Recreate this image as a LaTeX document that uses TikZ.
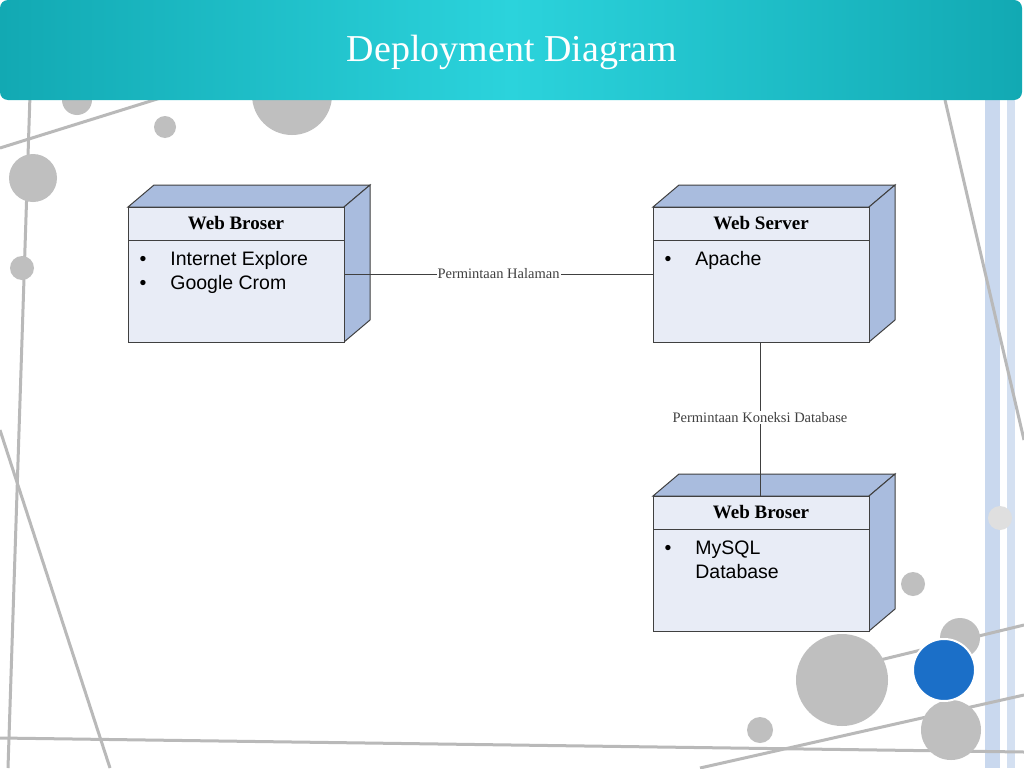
\documentclass[tikz,border=0pt]{standalone}
\usepackage{fontspec}
\setmainfont{Liberation Serif}
\newfontfamily\sansf{Liberation Sans}
\definecolor{facec}{HTML}{A9BCDE}
\definecolor{frontc}{HTML}{E8ECF6}
\definecolor{stripe}{HTML}{C9D8EE}
\definecolor{bluedot}{HTML}{1B6FC8}
\definecolor{tealA}{HTML}{12A9B3}
\definecolor{tealB}{HTML}{2BD3DC}
\begin{document}
\begin{tikzpicture}[x=1pt,y=-1pt,
  deco/.style={line width=3pt,color=gray!55},
  dot/.style={fill=gray!50,draw=none},
  front/.style={fill=frontc,draw=black!75,line width=1pt},
  face/.style={fill=facec,draw=black!75,line width=1pt},
  ttl/.style={font=\bfseries\fontsize{19}{22}\selectfont},
  item/.style={font=\sansf\fontsize{19.5}{24}\selectfont,align=left,anchor=north west},
  lab/.style={font=\fontsize{14.5}{16}\selectfont,fill=white,inner sep=1pt}]
\useasboundingbox (0,0) rectangle (1024,768);
\fill[white] (0,0) rectangle (1024,768);
% right stripes
\fill[stripe] (985,90) rectangle (1000,768);
\fill[stripe!80] (1007,90) rectangle (1015,768);
% deco lines
\draw[deco] (0,148) -- (170,95);
\draw[deco] (30,95) -- (8,768);
\draw[deco] (0,430) -- (110,768);
\draw[deco] (0,738) -- (1024,752);
\draw[deco] (945,100) -- (1024,440);
\draw[deco] (700,768) -- (1024,695);
\draw[deco] (880,660) -- (1024,625);
% circles
\fill[dot] (77,100) circle (15);
\fill[dot] (292,95) circle (40);
\fill[dot] (165,127) circle (11);
\fill[dot] (33,178) circle (24);
\fill[dot] (22,268) circle (12);
\fill[dot] (913,584) circle (12);
\fill[dot] (960,638) circle (20);
\fill[dot] (842,680) circle (46);
\fill[dot] (951,730) circle (30);
\fill[dot] (760,730) circle (13);
\fill[gray!25] (1000,518) circle (12);
\fill[bluedot,draw=white,line width=2pt] (944,670) circle (31);
% title bar
\shade[left color=tealA,right color=tealA,middle color=tealB,rounded corners=8pt] (0,0) rectangle (1022,100);
\node[white,font=\fontsize{38}{42}\selectfont] (title) at (512,52) {Deployment Diagram};
% nodes
\foreach \n/\x/\y/\t in {a/128/207/Web Broser,b/653/207/Web Server,c/653/496/Web Broser}{
  \path[face] (\x,\y) -- ++(26,-22) -- ++(216,0) -- ++(-26,22) -- cycle;
  \path[face] (\x+216,\y) -- ++(26,-22) -- ++(0,135) -- ++(-26,22) -- cycle;
  \path[front] (\x,\y) rectangle ++(216,135);
  \draw[black!75,line width=1pt] (\x,\y+33) -- ++(216,0);
  \node[ttl] (\n t) at (\x+108,\y+16) {\t};
  \coordinate (\n) at (\x,\y);
}
\node[item] (ai) at (136,248) {\textbullet\hspace{24pt}Internet Explore\\\textbullet\hspace{24pt}Google Crom};
\node[item] (bi) at (661,248) {\textbullet\hspace{24pt}Apache};
\node[item] (ci) at (661,537) {\textbullet\hspace{24pt}MySQL\\\phantom{\textbullet}\hspace{24pt}Database};
% connectors
\coordinate (ar) at (344,274); \coordinate (bl) at (653,274);
\coordinate (bb) at (760,342); \coordinate (ct) at (760,496);
\draw[black!75,line width=1pt] (ar) -- node[lab]{Permintaan Halaman} (bl);
\draw[black!75,line width=1pt] (bb) -- node[lab,pos=0.49]{Permintaan Koneksi Database} (ct);
\end{tikzpicture}
\end{document}
